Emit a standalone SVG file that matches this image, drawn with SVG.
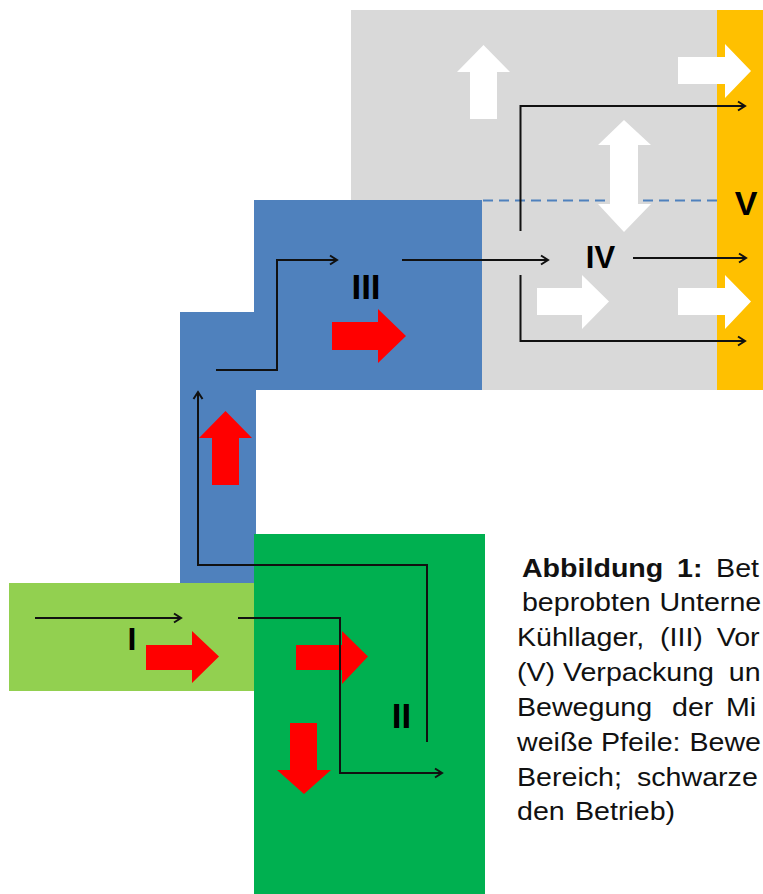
<svg xmlns="http://www.w3.org/2000/svg" width="763" height="894" viewBox="0 0 763 894">
<style>
.lbl{font-family:"Liberation Sans",Arial,sans-serif;font-weight:bold;fill:#000;text-anchor:middle}
.cap{font-family:"Liberation Sans",Arial,sans-serif;font-size:26px;fill:#111}
.cap .b{font-weight:bold}
.ln{fill:none;stroke:#111;stroke-width:2;stroke-linejoin:miter}
.ar{marker-end:url(#ah)}
.w{fill:#fff}
.r{fill:#ff0000}
</style>
<defs>
<marker id="ah" markerWidth="12" markerHeight="12" refX="10" refY="6" orient="auto" markerUnits="userSpaceOnUse">
<polyline points="3,1.5 10,6 3,10.5" fill="none" stroke="#111" stroke-width="2"/>
</marker>
</defs>
<rect width="763" height="894" fill="#fff"/>

<g id="region-IV">
<rect x="351" y="10" width="367" height="380" fill="#d9d9d9"/>
</g>
<g id="region-V">
<rect x="717" y="10" width="46" height="380" fill="#ffc000"/>
<text class="lbl" x="746" y="215" font-size="34">V</text>
</g>
<g id="region-III">
<rect x="254" y="200" width="228" height="190" fill="#4f81bd"/>
<rect x="180" y="312" width="76" height="271" fill="#4f81bd"/>
<text class="lbl" x="366" y="299" font-size="35">III</text>
</g>
<line x1="483" y1="200.5" x2="717" y2="200.5" stroke="#4f81bd" stroke-width="2" stroke-dasharray="10,6"/>
<g id="region-I">
<rect x="9" y="583" width="246" height="108" fill="#92d050"/>
<text class="lbl" x="132" y="650" font-size="32">I</text>
</g>
<g id="region-II">
<rect x="254" y="534" width="231" height="360" fill="#00b050"/>
<text class="lbl" x="401.5" y="728" font-size="35">II</text>
</g>
<text class="lbl" x="600.5" y="268" font-size="31">IV</text>

<g id="block-arrows">
<polygon class="w" points="470,119 470,72 457,72 483.5,45 510,72 497,72 497,119"/>
<polygon class="w" points="678,57 725,57 725,44 751,71 725,98 725,84 678,84"/>
<polygon class="w" points="624,120 651,145 638,145 638,204 651,204 624,232 598,204 610,204 610,145 598,145"/>
<polygon class="w" points="537,288 582,288 582,275 609,301.5 582,329 582,315 537,315"/>
<polygon class="w" points="678,288 725,288 725,275 751,301.5 725,329 725,315 678,315"/>
<polygon class="r" points="332,322 378,322 378,309 406,336 378,363 378,350 332,350"/>
<polygon class="r" points="212,485 212,438 199,438 225.5,411 252,438 239,438 239,485"/>
<polygon class="r" points="146,645 192,645 192,631 219,656.5 192,683 192,670 146,670"/>
<polygon class="r" points="296,645 342,645 342,631 368,656.5 342,684 342,670 296,670"/>
<polygon class="r" points="290,723 317,723 317,770 331,770 304,794 277,770 290,770"/>
</g>

<g id="connectors">
<polyline class="ln ar" points="35,618 181,618"/>
<polyline class="ln ar" points="238,618 340,618 340,773 442,773"/>
<polyline class="ln ar" points="427,742 427,565 198,565 198,392"/>
<polyline class="ln ar" points="216,370 277,370 277,260 337,260"/>
<polyline class="ln ar" points="402,260 548,260"/>
<polyline class="ln ar" points="520.5,231 520.5,106 745,106"/>
<polyline class="ln ar" points="633,258 746,258"/>
<polyline class="ln ar" points="520.5,275 520.5,341 745,341"/>
</g>

<g id="caption" class="cap" transform="scale(1.1,1)">
<text y="577"><tspan class="b" x="474.5">Abbildung</tspan><tspan class="b" x="615.5">1:</tspan><tspan x="651">Bet</tspan></text>
<text y="611"><tspan x="474.5">beprobten</tspan><tspan x="599.5">Unterne</tspan></text>
<text y="646"><tspan x="470">Kühllager,</tspan><tspan x="600">(III)</tspan><tspan x="651.5">Vor</tspan></text>
<text y="681"><tspan x="470">(V)</tspan><tspan x="511.8">Verpackung</tspan><tspan x="662.5">un</tspan></text>
<text y="716"><tspan x="470">Bewegung</tspan><tspan x="610.9">der</tspan><tspan x="660">Mi</tspan></text>
<text y="751"><tspan x="470">weiße</tspan><tspan x="546.4">Pfeile:</tspan><tspan x="626.8">Bewe</tspan></text>
<text y="786"><tspan x="470">Bereich;</tspan><tspan x="579.1">schwarze</tspan></text>
<text y="820"><tspan x="470">den</tspan><tspan x="522.7">Betrieb)</tspan></text>
</g>
</svg>
